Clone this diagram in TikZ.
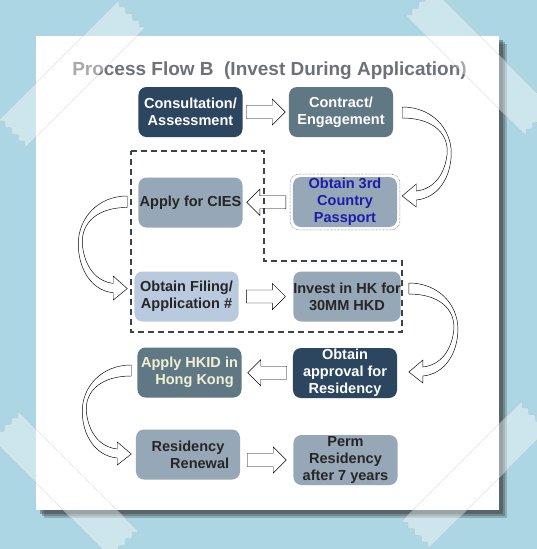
\documentclass[tikz,border=0pt]{standalone}
\usepackage{fontspec}
\setmainfont{Liberation Sans}
\usetikzlibrary{calc,fit}

\definecolor{bgblue}{RGB}{172,214,228}
\definecolor{navybox}{RGB}{45,70,96}
\definecolor{slatebox}{RGB}{96,119,132}
\definecolor{greybox}{RGB}{150,168,184}
\definecolor{palebox}{RGB}{185,201,222}
\definecolor{titlegrey}{RGB}{108,114,120}
\definecolor{passblue}{RGB}{28,28,170}
\definecolor{creamtext}{RGB}{242,240,212}
\definecolor{dashgrey}{RGB}{60,66,72}

\begin{document}
\begin{tikzpicture}[
  x=0.03cm, y=-0.03cm,
  every node/.style={font=\bfseries\fontsize{12.4}{14.5}\selectfont, align=center},
  box/.style={rectangle, rounded corners=0.24cm, inner sep=0pt, minimum width=3.12cm, minimum height=1.5cm},
  darkb/.style={box, fill=navybox, text=white},
  slateb/.style={box, fill=slatebox, text=white},
  greyb/.style={box, fill=greybox, text=black!85},
  paleb/.style={box, fill=palebox, text=black!85},
  tape/.style={fill=white, fill opacity=0.4, draw=black!30, draw opacity=0.5, line width=0.3pt},
  blockarrow/.pic={
    \draw[black, line width=0.4pt, fill=white] (-19.5,-6.5) -- (6.5,-6.5) -- (6.5,-13) -- (19.5,0)
      -- (6.5,13) -- (6.5,6.5) -- (-19.5,6.5) -- cycle;
  },
  bendarrow/.pic={
    \draw[black, line width=0.4pt, fill=white] (0,0) .. controls (30,0) and (49,22) .. (49,46)
      .. controls (49,70) and (36,91) .. (14,93) -- (14,100) -- (0,89) -- (14,77) -- (14,84)
      .. controls (32,82) and (43,67) .. (45,46) .. controls (46,25) and (29,11) .. (0,11) -- cycle;
  },
  tapestrip/.pic={
    \path[tape] (-85,-19) -- (85,-19) -- (81,-14) -- (85,-9.5) -- (81,-5) -- (85,0) -- (81,5)
      -- (85,9.5) -- (81,14) -- (85,19) -- (-85,19) -- (-81,14) -- (-85,9.5) -- (-81,5)
      -- (-85,0) -- (-81,-5) -- (-85,-9.5) -- (-81,-14) -- cycle;
  }
]
  \useasboundingbox (0,0) rectangle (537,549);
  \clip (0,0) rectangle (537,549);
  \fill[bgblue] (0,0) rectangle (537,549);

  % card with shadow
  \foreach \d/\o in {8/0.25, 6/0.3, 4/0.4}
    \fill[black!80, opacity=\o] (36+\d,36+\d) rectangle (499+\d,510+\d);
  \fill[white] (36,36) rectangle (499,510);

  \node[anchor=base, font=\bfseries\fontsize{16.2}{19}\selectfont, text=titlegrey] (title) at (269.5,75)
    {Process Flow B\ \ (Invest During Application)};

  % steps
  \node[darkb] (cons) at (190.5,112) {Consultation/\\Assessment};
  \node[slateb] (contr) at (341,112) {Contract/\\Engagement};
  \node[greyb] (cies) at (190.5,202.5) {Apply for CIES};
  \node[greyb, text=passblue] (pass) at (345,202) {Obtain 3rd\\Country\\Passport};
  \node[draw=black!60, dash pattern=on 0.5pt off 0.7pt, rounded corners=0.27cm, fit=(pass), inner sep=0.08cm] (passframe) {};
  \node[paleb] (filing) at (186.5,296.5) {Obtain Filing/\\Application \#};
  \node[greyb] (invest) at (347,296.5) {Invest in HK for\\30MM HKD};
  \node[slateb, text=creamtext] (hkid) at (189.5,372.5) {Apply HKID in\\\hspace*{0.3cm}Hong Kong};
  \node[darkb] (approval) at (345,373) {Obtain\\approval for\\Residency};
  \node[greyb] (renew) at (188,454.5) {Residency\\\hspace*{0.7cm}Renewal};
  \node[greyb] (perm) at (345.5,460) {Perm\\Residency\\after 7 years};

  % straight arrows
  \pic at ($(cons.east)!0.5!(contr.west)$) {blockarrow};
  \pic[rotate=180] at ($(cies.east)!0.5!(passframe.west)$) {blockarrow};
  \pic at ($(filing.east)!0.5!(invest.west)$) {blockarrow};
  \pic[rotate=180] at ($(hkid.east)!0.5!(approval.west)$) {blockarrow};
  \pic at ($(renew.east |- perm.west)!0.5!(perm.west)$) {blockarrow};

  % curved arrows between rows
  \pic at ($(contr.east)+(9,-5)$) {bendarrow};
  \pic[xscale=-1, yscale=1.04] at ($(cies.west)+(-11,-6.5)$) {bendarrow};
  \pic at ($(invest.east)+(8,-13.5)$) {bendarrow};
  \pic[xscale=-1] at ($(hkid.west)+(-6,-7.5)$) {bendarrow};

  % dashed group
  \draw[dashgrey, line width=0.055cm, dash pattern=on 0.18cm off 0.12cm]
    (131,151) -- (264,151) -- (264,261) -- (402,261) -- (402,332) -- (131,332) -- cycle;

  % tape strips
  \pic[rotate=45] at (72,74) {tapestrip};
  \pic[rotate=-45] at (479,62) {tapestrip};
  \pic[rotate=-45] at (65,485) {tapestrip};
  \pic[rotate=45] at (475,475) {tapestrip};
\end{tikzpicture}
\end{document}
